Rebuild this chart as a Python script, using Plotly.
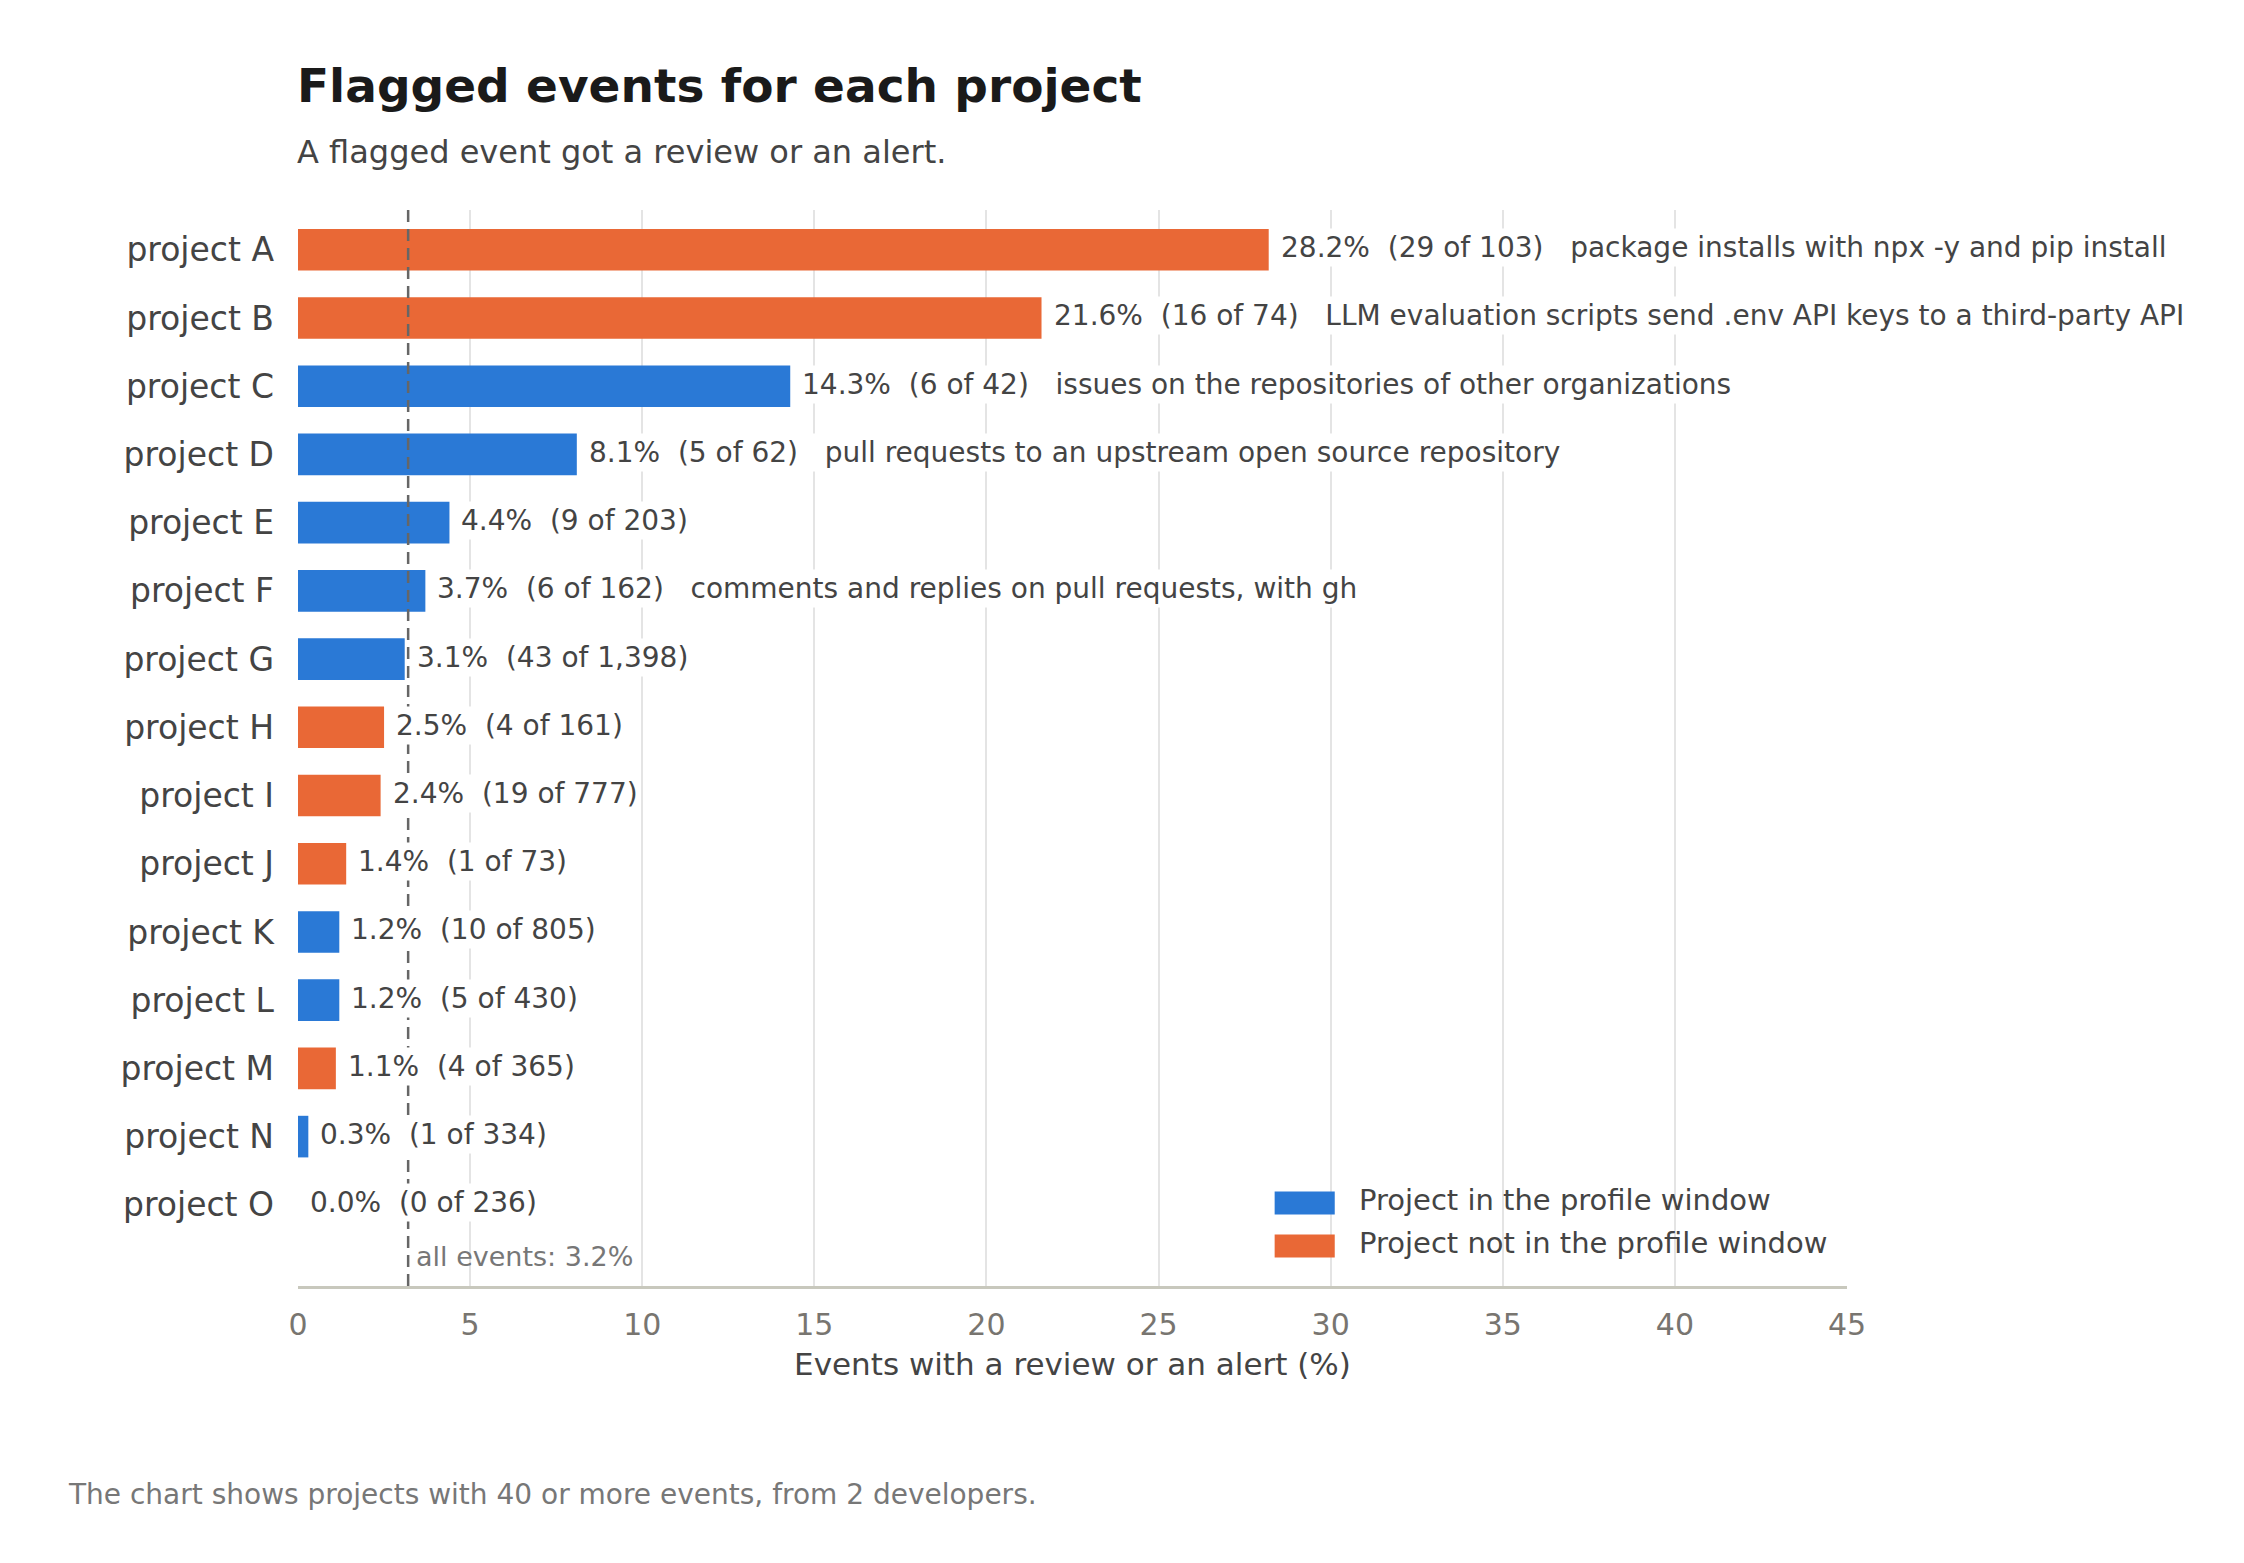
import plotly.graph_objects as go

# values
projects = ["project A", "project B", "project C", "project D", "project E",
            "project F", "project G", "project H", "project I", "project J",
            "project K", "project L", "project M", "project N", "project O"]
rates = [28.2, 21.6, 14.3, 8.1, 4.4, 3.7, 3.1, 2.5, 2.4, 1.4, 1.2, 1.2, 1.1, 0.3, 0.0]
flagged = [29, 16, 6, 5, 9, 6, 43, 4, 19, 1, 10, 5, 4, 1, 0]
totals = [103, 74, 42, 62, 203, 162, 1398, 161, 777, 73, 805, 430, 365, 334, 236]
in_window = [False, False, True, True, True, True, True, False, False, False,
             True, True, False, True, True]
notes = ["package installs with npx -y and pip install",
         "LLM evaluation scripts send .env API keys to a third-party API",
         "issues on the repositories of other organizations",
         "pull requests to an upstream open source repository",
         "", "comments and replies on pull requests, with gh",
         "", "", "", "", "", "", "", "", ""]
overall_rate = 3.2
x_ticks = [0, 5, 10, 15, 20, 25, 30, 35, 40, 45]
legend_names = ["Project in the profile window", "Project not in the profile window"]

BLUE = "#2a79d6"
ORANGE = "#e96836"
FONT = "DejaVu Sans"
NB = "\u00a0"

fig = go.Figure()

for flag, name, color in [(True, legend_names[0], BLUE),
                          (False, legend_names[1], ORANGE)]:
    ys = [p for p, w in zip(projects, in_window) if w == flag]
    xs = [r for r, w in zip(rates, in_window) if w == flag]
    fig.add_trace(go.Bar(x=xs, y=ys, orientation="h", name=name,
                         marker=dict(color=color, line=dict(width=0)),
                         width=0.61, hoverinfo="skip", showlegend=False))

# average line
fig.add_shape(type="line", x0=overall_rate, x1=overall_rate, xref="x",
              y0=0, y1=1, yref="paper", layer="above",
              line=dict(color="#666666", width=2.5, dash="12px,7px"))

# bar labels
for p, r, k, n, note in zip(projects, rates, flagged, totals, notes):
    label = f"{r:.1f}%{NB*2}({k} of {n:,})"
    if note:
        label += NB * 3 + note
    fig.add_annotation(x=r, y=p, xref="x", yref="y", text=label,
                       showarrow=False, xanchor="left", yanchor="middle",
                       xshift=9, yshift=2, bgcolor="white", borderpad=2,
                       font=dict(family=FONT, size=28, color="#444444"))

fig.add_annotation(x=overall_rate, y=0.027, xref="x", yref="paper",
                   text="all events: 3.2%", showarrow=False,
                   xanchor="left", yanchor="middle", xshift=6,
                   font=dict(family=FONT, size=27, color="#777777"))

# legend drawn as wide swatches, like the reference
for yc, name, color in zip([0.0771, 0.0372], legend_names, [BLUE, ORANGE]):
    fig.add_shape(type="rect", xref="paper", yref="paper",
                  x0=0.6305, x1=0.6693, y0=yc - 0.0107, y1=yc + 0.0107,
                  fillcolor=color, line=dict(width=0), layer="above")
    fig.add_annotation(x=0.6835, y=yc + 0.003, xref="paper", yref="paper",
                       text=name, showarrow=False, xanchor="left", yanchor="middle",
                       font=dict(family=FONT, size=29, color="#444444"))

# title, subtitle, footer
fig.add_annotation(x=0, y=1.1156, xref="paper", yref="paper",
                   text="<b>Flagged events for each project</b>", showarrow=False,
                   xanchor="left", yanchor="middle", xshift=-3,
                   font=dict(family=FONT, size=47, color="#1a1a1a"))
fig.add_annotation(x=0, y=1.0542, xref="paper", yref="paper",
                   text="A flagged event got a review or an alert.", showarrow=False,
                   xanchor="left", yanchor="middle", xshift=-3,
                   font=dict(family=FONT, size=32, color="#444444"))
fig.add_annotation(x=-0.150, y=-0.1939, xref="paper", yref="paper",
                   text="The chart shows projects with 40 or more events, from 2 developers.",
                   showarrow=False, xanchor="left", yanchor="middle",
                   font=dict(family=FONT, size=28, color="#777777"))

fig.update_layout(
    width=2244, height=1563,
    margin=dict(l=290, r=405, t=202, b=285),
    paper_bgcolor="white", plot_bgcolor="white",
    barmode="overlay",
    font=dict(family=FONT, color="#444444"),
    showlegend=False,
)

fig.update_xaxes(range=[0, 45], tickvals=x_ticks, showgrid=True,
                 gridcolor="#e4e4e4", gridwidth=2, zeroline=False,
                 showline=True, linecolor="#c8c8bd", linewidth=3,
                 ticks="", ticklabelstandoff=10,
                 tickfont=dict(family=FONT, size=30, color="#787570"),
                 title=dict(text="Events with a review or an alert (%)",
                            font=dict(family=FONT, size=31, color="#444444"),
                            standoff=13))
fig.update_yaxes(categoryorder="array", categoryarray=projects,
                 range=[15.19, -0.583], showgrid=False, zeroline=False,
                 showline=False, ticks="", ticklabelstandoff=23,
                 tickfont=dict(family=FONT, size=33, color="#444444"))

fig.write_html("out.html")
